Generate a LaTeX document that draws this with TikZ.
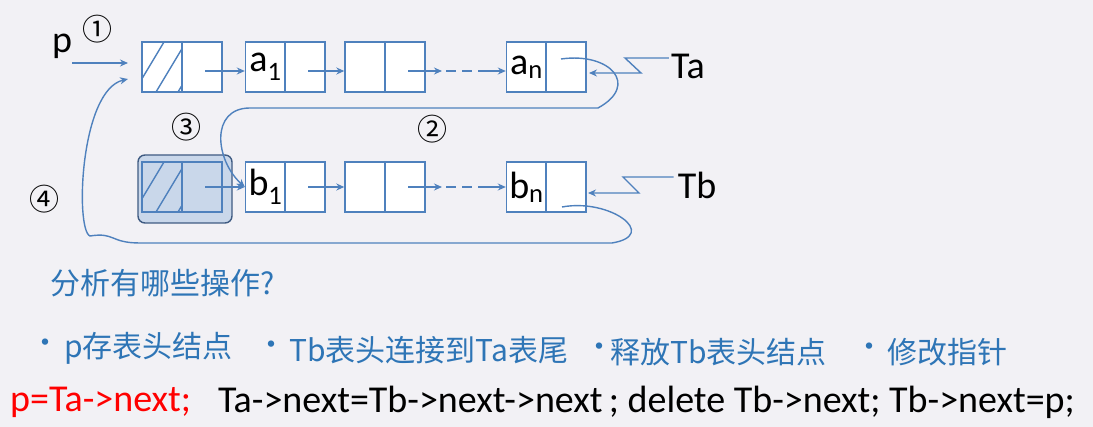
\documentclass[tikz,border=0pt]{standalone}
\usepackage{fontspec}
\setmainfont{Carlito}
\newfontfamily\cjk{Noto Sans CJK SC}
\newfontfamily\dv{DejaVu Sans}
\usetikzlibrary{arrows.meta}
\definecolor{ln}{HTML}{4F81BD}
\definecolor{bg}{HTML}{F2F1F5}
\definecolor{tx}{HTML}{2E75B6}
\definecolor{sh}{HTML}{C9D7EA}
\definecolor{shd}{HTML}{3F5B82}
\begin{document}
\begin{tikzpicture}[x=1pt,y=-1pt,
  cell/.style={draw=ln,line width=1.4pt,fill=white,minimum width=40pt,minimum height=50pt,inner sep=0pt},
  lk/.style={ln,line width=1.4pt,-{Stealth[length=8pt,width=7pt]}},
  wire/.style={ln,line width=1.4pt},
  lab/.style={font=\fontsize{38}{38}\selectfont,inner sep=0pt},
  circ/.style={font=\cjk\fontsize{30}{30}\selectfont,inner sep=0pt},
  ctext/.style={font=\cjk\fontsize{30}{30}\selectfont,text=tx,inner sep=0pt,anchor=west},
  code/.style={anchor=west,inner sep=0pt,font=\fontsize{38}{38}\selectfont}]
\fill[bg] (0,0) rectangle (1093,427);
\useasboundingbox (0,0) rectangle (1093,427);
% shaded freed head
\node[draw=shd,line width=1.4pt,fill=sh,rounded corners=7pt,minimum width=94pt,minimum height=68pt] (fr) at (185,189) {};
% top row
\node[cell] (h1) at (162,67) {}; \node[cell] (h2) at (202,67) {};
\node[cell] (a1) at (265.5,67) {}; \node[cell] (a1p) at (305,67) {};
\node[cell] (m1) at (365,67) {}; \node[cell] (m1p) at (405,67) {};
\node[cell] (an) at (526.5,67) {}; \node[cell] (anp) at (566,67) {};
% bottom row
\node[cell,fill=sh] (g1) at (162,187) {}; \node[cell,fill=sh] (g2) at (202,187) {};
\node[cell] (b1) at (265.5,187) {}; \node[cell] (b1p) at (305,187) {};
\node[cell] (m2) at (365,187) {}; \node[cell] (m2p) at (405,187) {};
\node[cell] (bn) at (526.5,187) {}; \node[cell] (bnp) at (566,187) {};
% hatch
\begin{scope}
\clip (h1.south west) rectangle (h1.north east);
\foreach \d in {-8,14,36}{\draw[wire] (142+\d,92) -- (172+\d,42);}
\end{scope}
\begin{scope}
\clip (g1.south west) rectangle (g1.north east);
\foreach \d in {-8,14,36}{\draw[wire] (142+\d,212) -- (172+\d,162);}
\end{scope}
% labels
\node[lab] at (a1) {a\textsubscript{1}};
\node[lab] at (an) {a\textsubscript{n}};
\node[lab] at (b1) {b\textsubscript{1}};
\node[lab] at (bn) {b\textsubscript{n}};
\node[lab] (p) at (62,46) {p};
\node[lab] (ta) at (688,66) {Ta};
\node[lab] (tb) at (697,185) {Tb};
\node[circ] at (97,29) {①};
\node[circ] at (432,129) {②};
\node[circ] at (186,127) {③};
\node[circ] at (45,199) {④};
% links
\draw[lk] (72,63) -- (128,63);
\draw[lk] (205,71) -- (a1.west |- 0,71);
\draw[lk] (308,71) -- (m1.west |- 0,71);
\draw[lk] (408,71) -- (442,71);
\draw[wire,dash pattern=on 10pt off 6pt] (446,71) -- (485,71);
\draw[lk] (485,71) -- (an.west |- 0,71);
\draw[lk] (205,187) -- (b1.west |- 0,187);
\draw[lk] (308,187) -- (m2.west |- 0,187);
\draw[lk] (408,187) -- (442,187);
\draw[wire,dash pattern=on 10pt off 6pt] (446,187) -- (485,187);
\draw[lk] (485,187) -- (bn.west |- 0,187);
% Ta / Tb pointers
\draw[lk] (ta.west) ++(-2,-8) -- (625,58) -- (641,73) -- (589,73);
\draw[lk] (tb.west) ++(-4,-8) -- (623,177) -- (639,193) -- (588,193);
% curve 2
\draw[lk] (561,59) .. controls (610,52) and (640,85) .. (598,108) -- (250,108)
  .. controls (210,108) and (215,160) .. (b1.west);
% curve 4
\draw[lk] (562,207) .. controls (610,198) and (660,235) .. (612,243) -- (140,243)
  .. controls (110,243) and (115,232) .. (90,236) .. controls (75,230) and (80,90) .. (128,79);
% text
\node[ctext] at (50,283) {分析有哪些操作?};
\node[ctext] at (30,346) {•}; \node[ctext] at (64,348) {p存表头结点};
\node[ctext] at (256,348) {•}; \node[ctext] at (289,350) {Tb表头连接到Ta表尾};
\node[ctext] at (584,350) {•}; \node[ctext] at (610,352) {释放Tb表头结点};
\node[ctext] at (854,350) {•}; \node[ctext] at (887,352) {修改指针};
\node[code,text=red] at (10,402) {p=Ta->next;};
\node[code] at (218,402) {Ta->next=Tb->next->next\,; delete Tb->next; Tb->next=p;};
\end{tikzpicture}
\end{document}
